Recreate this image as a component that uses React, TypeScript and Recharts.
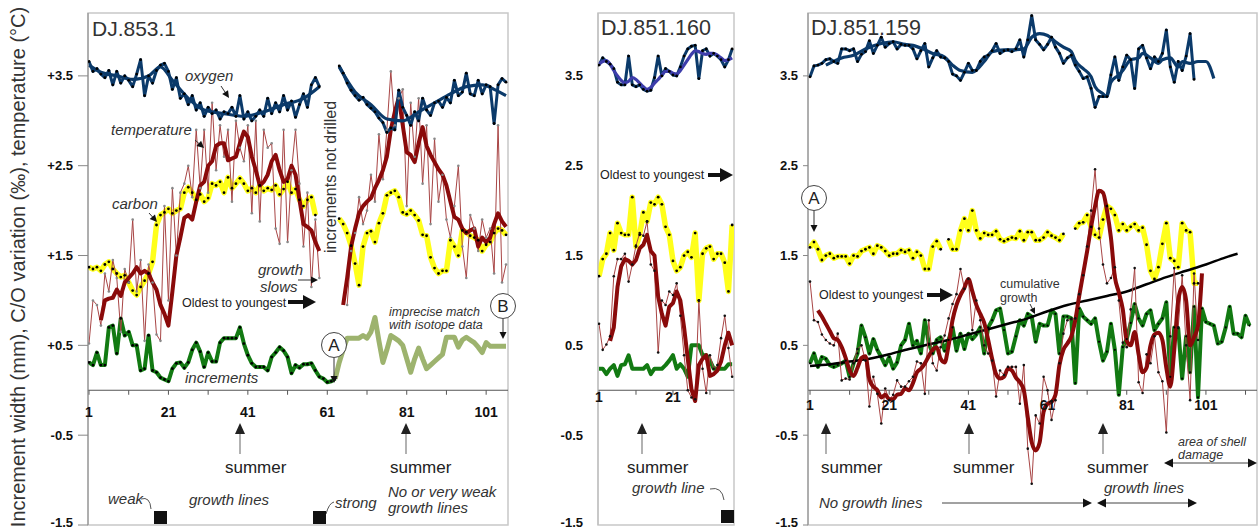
import React from 'react'
import { LineChart, Line, XAxis, YAxis, ReferenceLine, ReferenceDot, ReferenceArea } from 'recharts'

const FONT = '"Liberation Sans", Arial, sans-serif'

const NAVY = '#0b3a6a'
const PURPLE = '#3d3dab'
const DARKRED = '#8a0a0a'
const THINRED = '#a84545'
const YELLOW = '#ffff1a'
const GREEN = '#127a12'
const OLIVE = '#9db36e'

const Y_TICKS = [-1.5, -0.5, 0.5, 1.5, 2.5, 3.5]
const Y_DOMAIN: [number, number] = [-1.5, 4.2]

// ---------- DJ.853.1 ----------
const p1Ticks = [1, 11, 21, 31, 41, 51, 61, 71, 81, 91, 101]
const p1Labels = [1, 21, 41, 61, 81, 101]

const p1OxygenA = [ // x = 1..59
  3.66, 3.55, 3.58, 3.52, 3.48, 3.56, 3.40, 3.55, 3.42, 3.50,
  3.45, 3.38, 3.52, 3.68, 3.28, 3.50, 3.42, 3.56, 3.62, 3.64,
  3.55, 3.35, 3.48, 3.25, 3.30, 3.18, 3.28, 3.12, 3.20, 3.05,
  3.15, 3.08, 3.12, 3.02, 3.10, 3.08, 3.15, 3.05, 3.28, 3.02,
  3.10, 3.00, 3.05, 3.12, 3.05, 3.25, 3.08, 3.20, 3.10, 3.28,
  3.12, 3.22, 3.04, 3.18, 3.30, 3.15, 3.40, 3.48, 3.38,
]
const p1OxygenB = [ // x = 64..106
  3.61, 3.53, 3.42, 3.34, 3.28, 3.23, 3.26, 3.18, 3.14, 3.10,
  3.03, 2.98, 2.87, 2.92, 2.90, 3.34, 3.15, 3.06, 2.95, 3.10,
  3.00, 3.25, 3.12, 3.06, 3.20, 3.22, 3.15, 3.26, 3.20, 3.45,
  3.28, 3.32, 3.53, 3.30, 3.28, 3.45, 3.30, 3.40, 3.38, 2.97,
  3.40, 3.47, 3.43,
]
const p1OxySmoothAX = [1, 4, 8, 12, 16, 19, 22, 26, 30, 35, 40, 45, 50, 55, 59]
const p1OxySmoothAY = [3.62, 3.54, 3.50, 3.46, 3.50, 3.60, 3.45, 3.25, 3.12, 3.08, 3.05, 3.10, 3.18, 3.25, 3.38]
const p1OxySmoothBX = [64, 68, 72, 76, 80, 84, 88, 92, 96, 100, 103, 106]
const p1OxySmoothBY = [3.60, 3.32, 3.18, 3.02, 3.00, 3.10, 3.20, 3.30, 3.38, 3.40, 3.35, 3.28]

const p1TempRawA = [ // x = 1..59
  0.52, 1.00, 0.95, 0.72, 1.30, 1.10, 1.45, 1.25, 0.65, 1.35,
  1.20, 1.90, 1.10, 1.45, 0.55, 1.40, 1.20, 0.62, 0.55, 2.05,
  1.00, 2.25, 1.50, 2.20, 2.30, 2.50, 2.15, 2.90, 2.25, 2.90,
  2.20, 3.20, 2.45, 2.95, 2.60, 2.90, 2.10, 3.00, 2.70, 2.55,
  2.95, 1.97, 3.00, 1.88, 2.90, 2.70, 2.75, 1.80, 1.63, 2.90,
  1.65, 2.45, 2.90, 2.30, 1.60, 2.20, 1.15, 1.90, 1.25,
]
const p1TempRawB = [ // x = 66..106
  0.95, 1.55, 1.75, 2.15, 1.85, 2.00, 2.40, 2.10, 2.85, 2.35,
  2.90, 3.55, 2.95, 3.25, 3.35, 2.05, 3.20, 2.60, 3.25, 2.30,
  2.95, 1.85, 2.80, 2.10, 2.40, 1.90, 1.70, 2.05, 2.50, 1.60,
  1.25, 1.95, 1.80, 1.55, 1.90, 1.70, 1.80, 1.30, 2.95, 1.20,
  1.40,
]
const p1TempSmoothA = [ // x = 4..59
  0.78, 1.00, 1.02, 1.03, 1.12, 1.05, 1.20, 1.25, 1.30, 1.37,
  1.30, 1.33, 1.30, 1.20, 1.12, 0.95, 0.85, 0.72, 1.10, 1.50,
  1.70, 1.92, 1.95, 1.90, 2.10, 2.28, 2.32, 2.50, 2.55, 2.72,
  2.75, 2.75, 2.56, 2.58, 2.60, 2.75, 2.88, 2.82, 2.60, 2.45,
  2.28, 2.32, 2.40, 2.55, 2.62, 2.45, 2.32, 2.35, 2.50, 2.40,
  2.12, 1.85, 1.82, 1.78, 1.65, 1.55,
]
const p1TempSmoothB = [ // x = 65..106
  0.95, 1.25, 1.60, 1.80, 1.97, 2.05, 2.10, 2.14, 2.25, 2.34,
  2.45, 2.60, 2.90, 3.10, 3.26, 2.95, 2.65, 2.62, 2.54, 2.75,
  2.93, 2.72, 2.62, 2.54, 2.46, 2.40, 2.28, 2.10, 1.93, 1.90,
  1.80, 1.75, 1.78, 1.80, 1.60, 1.70, 1.65, 1.70, 1.85, 1.97,
  1.88, 1.82,
]
const p1CarbonA = [ // x = 1..58
  1.37, 1.35, 1.37, 1.33, 1.40, 1.43, 1.35, 1.30, 1.26, 1.28,
  1.20, 1.11, 1.06, 1.15, 1.22, 1.30, 1.43, 1.84, 1.95, 1.98,
  2.02, 1.97, 2.00, 2.02, 2.20, 2.26, 2.20, 2.12, 2.18, 2.10,
  2.14, 2.30, 2.28, 2.32, 2.20, 2.37, 2.25, 2.30, 2.36, 2.30,
  2.22, 2.25, 2.20, 2.28, 2.22, 2.25, 2.23, 2.28, 2.18, 2.24,
  2.32, 2.20, 2.24, 2.12, 2.05, 2.12, 2.15, 1.95,
]
const p1CarbonB = [ // x = 64..106
  1.91, 1.85, 1.75, 1.61, 1.41, 1.17, 1.60, 1.75, 1.77, 1.65,
  1.86, 1.97, 2.17, 2.20, 2.22, 2.15, 1.98, 1.96, 2.00, 1.95,
  1.89, 1.73, 1.72, 1.48, 1.36, 1.30, 1.33, 1.33, 1.67, 1.60,
  1.50, 1.78, 1.76, 1.72, 1.70, 1.67, 1.55, 1.62, 1.65, 1.75,
  1.80, 1.78, 1.73,
]
const p1Increments = [ // x = 1..63
  0.31, 0.28, 0.42, 0.28, 0.28, 0.70, 0.72, 0.41, 0.80, 0.61,
  0.65, 0.50, 0.50, 0.22, 0.24, 0.61, 0.22, 0.20, 0.14, 0.12,
  0.10, 0.24, 0.30, 0.31, 0.25, 0.31, 0.45, 0.53, 0.43, 0.26,
  0.42, 0.32, 0.32, 0.53, 0.58, 0.58, 0.58, 0.58, 0.70, 0.52,
  0.39, 0.30, 0.26, 0.26, 0.26, 0.22, 0.37, 0.42, 0.48, 0.44,
  0.37, 0.19, 0.28, 0.25, 0.29, 0.29, 0.30, 0.22, 0.15, 0.13,
  0.09, 0.10, 0.13,
]
const p1IncrementsLate = [ // x = 63..106
  0.13, 0.31, 0.45, 0.58, 0.58, 0.58, 0.58, 0.61, 0.58, 0.65,
  0.81, 0.55, 0.31, 0.45, 0.61, 0.58, 0.55, 0.50, 0.35, 0.20,
  0.35, 0.47, 0.35, 0.24, 0.28, 0.32, 0.36, 0.40, 0.59, 0.59,
  0.59, 0.48, 0.56, 0.59, 0.56, 0.53, 0.48, 0.42, 0.53, 0.49,
  0.49, 0.49, 0.49, 0.49,
]

// ---------- DJ.851.160 ----------
const p2Ticks = [1, 11, 21, 31]
const p2Labels = [1, 21]

const p2Oxygen = [ // x = 1..37
  3.62, 3.70, 3.66, 3.63, 3.58, 3.43, 3.40, 3.40, 3.72, 3.40,
  3.38, 3.40, 3.35, 3.33, 3.34, 3.48, 3.72, 3.50, 3.58, 3.55,
  3.51, 3.50, 3.60, 3.72, 3.80, 3.83, 3.84, 3.47, 3.78, 3.80,
  3.72, 3.75, 3.72, 3.68, 3.60, 3.68, 3.80,
]
const p2OxygenSmooth = [ // x = 1..37
  3.63, 3.66, 3.67, 3.63, 3.56, 3.50, 3.45, 3.42, 3.44, 3.48,
  3.46, 3.42, 3.38, 3.35, 3.37, 3.42, 3.46, 3.51, 3.55, 3.55,
  3.53, 3.52, 3.56, 3.62, 3.68, 3.74, 3.78, 3.77, 3.75, 3.74,
  3.75, 3.75, 3.73, 3.70, 3.67, 3.68, 3.70,
]
const p2Carbon = [ // x = 1..37
  1.27, 1.46, 1.52, 1.75, 1.56, 1.86, 1.75, 1.73, 1.73, 2.15,
  1.60, 1.73, 1.98, 1.88, 2.09, 2.07, 2.15, 2.07, 1.82, 1.73,
  1.44, 1.33, 1.37, 1.50, 1.54, 1.48, 1.75, 1.00, 1.52, 1.58,
  1.60, 1.46, 1.52, 1.52, 1.42, 1.10, 1.84,
]
const p2TempRaw = [ // x = 1..37
  0.74, 0.45, 0.51, 0.60, 1.27, 1.46, 1.46, 1.52, 1.21, 1.40,
  1.61, 1.75, 1.72, 1.88, 1.40, 1.33, 0.42, 1.00, 0.95, 1.10,
  1.06, 1.19, 0.83, 0.39, 0.00, -0.08, -0.10, 1.00, 0.24, -0.03,
  0.39, 0.24, 0.28, 0.58, 0.83, 0.47, 0.15,
]
const p2TempSmooth = [ // x = 4..37
  0.55, 0.70, 1.15, 1.38, 1.46, 1.44, 1.40, 1.45, 1.58, 1.62,
  1.73, 1.55, 1.50, 1.04, 0.85, 0.72, 0.93, 0.97, 1.10, 1.00,
  0.70, 0.35, 0.01, -0.12, 0.28, 0.35, 0.39, 0.16, 0.18, 0.22,
  0.32, 0.50, 0.64, 0.50,
]
const p2Increments = [ // x = 1..37
  0.24, 0.24, 0.18, 0.24, 0.28, 0.16, 0.28, 0.29, 0.39, 0.24,
  0.24, 0.24, 0.24, 0.28, 0.18, 0.24, 0.24, 0.24, 0.28, 0.33,
  0.39, 0.24, 0.29, 0.24, 0.15, 0.50, 0.50, 0.50, 0.39, 0.39,
  0.33, 0.24, 0.24, 0.24, 0.24, 0.29, 0.29,
]

// ---------- DJ.851.159 ----------
const p3Ticks = [1, 11, 21, 31, 41, 51, 61, 71, 81, 91, 101, 111]
const p3Labels = [1, 21, 41, 61, 81, 101]

const p3Oxygen = [ // x = 1..98
  3.49, 3.61, 3.62, 3.64, 3.68, 3.69, 3.66, 3.64, 3.80, 3.80,
  3.78, 3.80, 3.66, 3.74, 3.77, 3.89, 3.75, 3.84, 3.93, 3.82,
  3.86, 3.88, 3.80, 3.85, 3.84, 3.84, 3.80, 3.69, 3.78, 3.86,
  3.60, 3.70, 3.78, 3.71, 3.70, 3.66, 3.52, 3.50, 3.45, 3.54,
  3.64, 3.56, 3.56, 3.66, 3.71, 3.73, 3.78, 3.86, 3.75, 3.78,
  3.79, 3.77, 3.80, 3.90, 3.71, 3.90, 4.17, 3.90, 3.85, 3.79,
  3.85, 3.93, 3.82, 3.75, 3.64, 3.70, 3.73, 3.62, 3.55, 3.47,
  3.49, 3.36, 3.15, 3.27, 3.27, 3.27, 3.51, 3.71, 3.45, 3.60,
  3.73, 3.68, 3.36, 3.80, 3.84, 3.70, 3.58, 3.71, 3.66, 3.75,
  4.01, 3.60, 3.43, 3.66, 3.56, 3.72, 3.97, 3.46,
]
const p3OxySmoothX = [
  5, 9, 12, 15, 19, 22, 25, 27, 30, 32, 35, 37, 39, 42, 45, 47,
  50, 52, 55, 57, 59, 61, 63, 65, 67, 68, 70, 72, 73, 75, 76, 77,
  79, 80, 82, 84, 85, 87, 89, 90, 92, 94, 95, 97, 99, 101, 103,
]
const p3OxySmoothY = [
  3.62, 3.70, 3.73, 3.80, 3.86, 3.88, 3.85, 3.84, 3.79, 3.75, 3.71, 3.62, 3.56, 3.54, 3.66, 3.77,
  3.79, 3.79, 3.80, 3.93, 3.97, 3.95, 3.88, 3.82, 3.77, 3.67, 3.58, 3.49, 3.38, 3.30, 3.27, 3.43,
  3.51, 3.56, 3.68, 3.70, 3.75, 3.70, 3.64, 3.68, 3.70, 3.60, 3.66, 3.64, 3.66, 3.66, 3.47,
]
const p3Carbon = [ // x = 1..99
  1.59, 1.65, 1.57, 1.45, 1.50, 1.52, 1.47, 1.49, 1.49, 1.49,
  1.41, 1.50, 1.49, 1.55, 1.57, 1.59, 1.52, 1.61, 1.59, 1.55,
  1.50, 1.52, 1.52, 1.56, 1.54, 1.56, 1.47, 1.54, 1.50, 1.35,
  1.35, 1.60, 1.66, 1.57, null, 1.68, 1.57, 1.57, 1.78, 1.91,
  1.78, 2.00, 1.78, 1.69, 1.75, 1.73, 1.73, 1.77, 1.68, 1.66,
  1.68, 1.70, 1.69, 1.77, 1.67, 1.76, 1.76, 1.67, 1.67, 1.70,
  1.76, 1.72, 1.70, 1.67, 1.74, null, null, 1.80, 1.86, 1.87,
  1.95, 1.82, 1.73, 1.70, 1.90, 2.05, 2.02, 1.95, 1.78, 1.85,
  1.78, 1.82, 1.85, 1.78, 1.81, 1.62, 1.33, 1.24, 1.37, 1.63,
  1.86, 1.47, 1.44, 1.37, 1.86, 1.78, 1.76, 1.19, 1.19,
]
const p3TempRaw = [ // x = 1..99
  1.21, 0.78, 0.76, 0.62, 0.56, 0.52, 0.50, 0.63, 0.11, 0.13,
  0.12, 0.30, 0.46, 0.50, 0.33, -0.18, 0.15, -0.04, -0.37, 0.02,
  -0.11, -0.05, 0.11, 0.04, 0.04, 0.10, 0.15, 0.32, 0.30, -0.04,
  0.78, 0.30, 0.22, 0.48, 0.61, 0.80, 0.96, 1.07, 1.35, 1.13,
  1.24, 0.67, 1.00, 0.78, 0.50, 0.41, 0.33, -0.07, 0.22, 0.17,
  0.26, 0.26, 0.26, -0.15, 0.28, -0.65, -1.04, -0.28, -0.37, 0.15,
  0.00, -0.33, -0.11, 0.30, 0.63, 0.78, 0.79, 0.80, 1.07, 1.28,
  1.60, 2.00, 2.46, 1.80, 1.40, 1.19, 1.25, 1.37, 1.00, 0.53,
  0.48, 0.90, 1.36, 0.09, -0.03, 0.40, 0.30, 0.60, 0.20, 0.10,
  -0.47, 0.60, 1.36, 0.70, 1.28, 0.50, -0.11, 1.30, 0.56,
]
const p3TempSmooth = [ // x = 3..100
  0.89, 0.82, 0.74, 0.66, 0.58, 0.56, 0.48, 0.36, 0.22, 0.16,
  0.25, 0.36, 0.38, 0.12, 0.04, 0.00, -0.08, -0.05, -0.10, -0.10,
  -0.05, -0.04, 0.02, 0.00, 0.08, 0.20, 0.24, 0.30, 0.38, 0.45,
  0.48, 0.35, 0.31, 0.50, 0.78, 0.95, 1.06, 1.14, 1.24, 1.10,
  0.95, 0.85, 0.75, 0.56, 0.35, 0.18, 0.13, 0.15, 0.24, 0.22,
  0.14, 0.09, 0.00, -0.30, -0.58, -0.67, -0.58, -0.24, -0.15, -0.13,
  -0.05, 0.28, 0.45, 0.52, 0.60, 0.78, 1.05, 1.30, 1.55, 1.82,
  2.05, 2.22, 2.20, 2.00, 1.70, 1.26, 1.09, 0.90, 0.55, 0.50,
  0.65, 0.40, 0.20, 0.25, 0.50, 0.62, 0.64, 0.56, 0.25, 0.04,
  0.45, 1.00, 1.15, 1.00, 0.50, 0.59, 0.72, 1.30,
]
const p3Increments = [ // x = 1..112
  0.30, 0.41, 0.26, 0.37, 0.35, 0.28, 0.26, 0.28, 0.30, 0.33,
  0.15, 0.30, 0.41, 0.72, 0.59, 0.41, 0.57, 0.45, 0.37, 0.28,
  0.37, 0.24, 0.31, 0.50, 0.56, 0.74, 0.50, 0.55, 0.41, 0.78,
  0.52, 0.41, 0.56, 0.59, 0.44, 0.56, 0.70, 0.44, 0.63, 0.46,
  0.63, 0.57, 0.62, 0.70, 0.41, 0.70, 0.78, 0.89, 0.91, 0.67,
  0.41, 0.43, 0.60, 0.78, 0.72, 0.85, 0.82, 0.54, 0.74, 0.72,
  0.72, 0.89, 0.85, 0.41, 0.82, 0.82, 0.80, 0.08, 0.91, 0.82,
  0.78, 0.74, 0.80, 0.54, 0.33, 0.43, 0.74, 0.45, -0.05, 0.48,
  0.57, 0.75, 0.96, 0.80, 0.72, 0.85, 0.89, 0.67, 0.74, 0.80,
  0.98, 0.15, 0.70, 0.69, 0.13, 0.60, 0.20, 0.93, -0.08, 0.91,
  0.76, 0.74, 0.72, 0.52, 0.54, 0.70, 0.93, 0.63, 0.63, 0.59,
  0.83, 0.72,
]
const p3CumulativeX = [1, 6, 11, 16, 21, 26, 31, 36, 41, 46, 51, 56, 61, 66, 71, 76, 81, 86, 91, 96, 101, 106, 109]
const p3CumulativeY = [0.27, 0.29, 0.32, 0.35, 0.40, 0.46, 0.51, 0.56, 0.62, 0.68, 0.74, 0.80, 0.88, 0.95, 1.00, 1.05, 1.10, 1.18, 1.26, 1.33, 1.40, 1.48, 1.52]

type Pt = { x: number; y: number | null }
const seq = (start: number, ys: (number | null)[]): Pt[] => ys.map((y, i) => ({ x: start + i, y }))
const pts = (xs: number[], ys: number[]): Pt[] => xs.map((x, i) => ({ x, y: ys[i] }))

const blackDot = { r: 1.4, fill: '#000', stroke: 'none' }
const tempDot = (fill: string) => ({ r: 1.3, fill, stroke: 'none' })

function zeroAxis(key: string, ticks: number[], labels: number[], offset: number) {
  const out: React.ReactNode[] = [
    <ReferenceLine key={key + '-zero'} y={0} stroke="#555" strokeWidth={1.2} />,
  ]
  ticks.forEach((t) =>
    out.push(
      <ReferenceLine key={key + '-t' + t} segment={[{ x: t, y: 0 }, { x: t, y: -0.05 }]} stroke="#555" />,
    ),
  )
  labels.forEach((t) =>
    out.push(
      <ReferenceDot
        key={key + '-l' + t}
        x={t}
        y={0}
        r={0}
        stroke="none"
        label={{ value: String(t), position: 'bottom', offset, fill: '#111', fontSize: 14, fontWeight: 700, fontFamily: FONT }}
      />,
    ),
  )
  return out
}

const line = (data: Pt[], stroke: string, width: number, dot: any = false, type: 'linear' | 'monotone' = 'linear') => (
  <Line
    data={data}
    dataKey="y"
    type={type}
    stroke={stroke}
    strokeWidth={width}
    dot={dot}
    activeDot={false}
    isAnimationActive={false}
    strokeLinejoin="round"
  />
)

// y tick labels; the lowest one sits a little higher so it stays inside the page
const yTickRenderer = (plus: boolean) => (props: any) => {
  const { x, y, payload } = props
  const v = payload.value as number
  const text = (plus && v > 0 ? '+' : '') + v.toFixed(1)
  return (
    <text x={x} y={y + (v === -1.5 ? -3 : 0)} dy="0.35em" textAnchor="end" fill="#111" fontSize={13} fontWeight={700} fontFamily={FONT}>
      {text}
    </text>
  )
}

function Arrow({ x1, y1, x2, y2, color = '#333', width = 1, head = 8, half = 4, headColor = '#111' }: any) {
  const a = Math.atan2(y2 - y1, x2 - x1)
  const hx = x2 - head * Math.cos(a)
  const hy = y2 - head * Math.sin(a)
  const px = -Math.sin(a) * half
  const py = Math.cos(a) * half
  return (
    <g>
      <line x1={x1} y1={y1} x2={hx + Math.cos(a)} y2={hy + Math.sin(a)} stroke={color} strokeWidth={width} />
      <polygon points={`${x2},${y2} ${hx + px},${hy + py} ${hx - px},${hy - py}`} fill={headColor} />
    </g>
  )
}

function DoubleArrow({ x1, x2, y }: any) {
  return (
    <g>
      <Arrow x1={(x1 + x2) / 2} y1={y} x2={x1} y2={y} color="#444" head={9} half={4.5} />
      <Arrow x1={(x1 + x2) / 2} y1={y} x2={x2} y2={y} color="#444" head={9} half={4.5} />
    </g>
  )
}

function Circled({ x, y, t }: any) {
  return (
    <g>
      <circle cx={x} cy={y} r={12.5} fill="#fff" stroke="#444" strokeWidth={1} />
      <text x={x} y={y + 6} textAnchor="middle" fontSize={17} fill="#222">{t}</text>
    </g>
  )
}

function Summer({ x, textX }: any) {
  return (
    <g>
      <Arrow x1={x} y1={454} x2={x} y2={423} color="#999" width={1.5} head={11} half={5} headColor="#222" />
      <text x={textX} y={473} fontSize={17} fill="#222">summer</text>
    </g>
  )
}

const it = { fontStyle: 'italic' as const, fill: '#333' }

export default function App() {
  return (
    <div style={{ position: 'absolute', left: 0, top: 0, width: 1258, height: 531, overflow: 'hidden', background: '#fff', fontFamily: FONT }}>
      {/* DJ.853.1 */}
      <div style={{ position: 'absolute', left: 0, top: 0 }}>
        <LineChart width={515} height={531} margin={{ top: 13, right: 7, bottom: 6, left: 0 }}>
          <XAxis type="number" dataKey="x" domain={[0.75, 106.5]} hide allowDataOverflow />
          <YAxis
            type="number"
            domain={Y_DOMAIN}
            ticks={Y_TICKS}
            interval={0}
            width={88}
            allowDataOverflow
            tick={yTickRenderer(true)}
            tickSize={10}
            tickMargin={5}
            axisLine={{ stroke: '#888' }}
            tickLine={{ stroke: '#888' }}
          />
          <ReferenceArea x1={0.75} x2={106.5} y1={-1.5} y2={4.2} fill="none" stroke="#c8c8c8" strokeWidth={1.5} />
          {zeroAxis('p1', p1Ticks, p1Labels, 17)}
          {line(seq(1, p1Increments), GREEN, 4, blackDot)}
          {line(seq(63, p1IncrementsLate), OLIVE, 5)}
          {line(seq(1, p1CarbonA), YELLOW, 5.5, blackDot)}
          {line(seq(64, p1CarbonB), YELLOW, 5.5, blackDot)}
          {line(seq(1, p1TempRawA), THINRED, 1, tempDot('#888'))}
          {line(seq(66, p1TempRawB), THINRED, 1, tempDot('#888'))}
          {line(seq(4, p1TempSmoothA), DARKRED, 4)}
          {line(seq(65, p1TempSmoothB), DARKRED, 4)}
          {line(seq(1, p1OxygenA), NAVY, 3, blackDot)}
          {line(seq(64, p1OxygenB), NAVY, 3, blackDot)}
          {line(pts(p1OxySmoothAX, p1OxySmoothAY), NAVY, 3.2, false, 'monotone')}
          {line(pts(p1OxySmoothBX, p1OxySmoothBY), NAVY, 3.2, false, 'monotone')}
        </LineChart>
      </div>

      {/* DJ.851.160 */}
      <div style={{ position: 'absolute', left: 555, top: 0 }}>
        <LineChart width={182} height={531} margin={{ top: 13, right: 3, bottom: 6, left: 0 }}>
          <XAxis type="number" dataKey="x" domain={[0.73, 37.5]} hide allowDataOverflow />
          <YAxis
            type="number"
            domain={Y_DOMAIN}
            ticks={Y_TICKS}
            interval={0}
            width={43}
            allowDataOverflow
            tick={yTickRenderer(false)}
            tickSize={10}
            tickMargin={5}
            axisLine={{ stroke: '#bbb' }}
            tickLine={false}
          />
          <ReferenceArea x1={0.73} x2={37.5} y1={-1.5} y2={4.2} fill="none" stroke="#c8c8c8" strokeWidth={1.5} />
          {zeroAxis('p2', p2Ticks, p2Labels, 2)}
          {line(seq(1, p2Increments), GREEN, 4)}
          {line(seq(1, p2Carbon), YELLOW, 5.5, blackDot)}
          {line(seq(1, p2TempRaw), THINRED, 1, tempDot('#111'))}
          {line(seq(4, p2TempSmooth), DARKRED, 4)}
          {line(seq(1, p2Oxygen), NAVY, 3, blackDot)}
          {line(seq(1, p2OxygenSmooth), PURPLE, 3.2, false, 'monotone')}
        </LineChart>
      </div>

      {/* DJ.851.159 */}
      <div style={{ position: 'absolute', left: 760, top: 0 }}>
        <LineChart width={498} height={531} margin={{ top: 13, right: 1, bottom: 6, left: 0 }}>
          <XAxis type="number" dataKey="x" domain={[0.49, 113.9]} hide allowDataOverflow />
          <YAxis
            type="number"
            domain={Y_DOMAIN}
            ticks={Y_TICKS}
            interval={0}
            width={48}
            allowDataOverflow
            tick={yTickRenderer(false)}
            tickSize={5}
            tickMargin={5}
            axisLine={{ stroke: '#888' }}
            tickLine={{ stroke: '#888' }}
          />
          <ReferenceArea x1={0.49} x2={113.9} y1={-1.5} y2={4.2} fill="none" stroke="#c8c8c8" strokeWidth={1.5} />
          {zeroAxis('p3', p3Ticks, p3Labels, 10)}
          {line(seq(1, p3Carbon), YELLOW, 5.5, blackDot)}
          {line(seq(1, p3Increments), GREEN, 4, { r: 1.1, fill: '#000', stroke: 'none' })}
          {line(pts(p3CumulativeX, p3CumulativeY), '#000', 2.5, false, 'monotone')}
          {line(seq(1, p3TempRaw), THINRED, 1, tempDot('#111'))}
          {line(seq(3, p3TempSmooth), DARKRED, 4, false, 'monotone')}
          {line(seq(1, p3Oxygen), NAVY, 3, blackDot)}
          {line(pts(p3OxySmoothX, p3OxySmoothY), NAVY, 3.2, false, 'monotone')}
        </LineChart>
      </div>

      {/* annotations */}
      <svg width={1258} height={531} style={{ position: 'absolute', left: 0, top: 0, pointerEvents: 'none' }} fontFamily={FONT}>
        <text transform="translate(25,267) rotate(-90)" textAnchor="middle" fontSize={20} fill="#333">
          Increment width (mm), C/O variation (‰), temperature (°C)
        </text>

        {/* panel 1 */}
        <text x={92} y={36} fontSize={21} fill="#333">DJ.853.1</text>
        <text x={185} y={81} fontSize={15} {...it}>oxygen</text>
        <Arrow x1={221} y1={86} x2={229} y2={98} head={7} half={3.5} />
        <text x={111} y={135} fontSize={15} {...it}>temperature</text>
        <Arrow x1={195} y1={140} x2={204} y2={148} head={7} half={3.5} />
        <text x={112} y={209} fontSize={15} {...it}>carbon</text>
        <Arrow x1={149} y1={213} x2={157} y2={222} head={7} half={3.5} />
        <text x={258} y={275} fontSize={15} {...it}>growth</text>
        <text x={260} y={292} fontSize={15} {...it}>slows</text>
        <Arrow x1={298} y1={280} x2={318} y2={280} head={7} half={3.5} />
        <text x={182} y={307} fontSize={12.5} fill="#222">Oldest to youngest</text>
        <Arrow x1={288} y1={302} x2={316} y2={302} width={4} head={13} half={7} color="#111" />
        <text transform="translate(336,177) rotate(-90)" textAnchor="middle" fontSize={16} fill="#333">increments not drilled</text>
        <text x={185} y={383} fontSize={15} {...it}>increments</text>
        <Circled x={334} y={345} t="A" />
        <Arrow x1={334} y1={358} x2={334} y2={383} head={7} half={3.5} />
        <Circled x={503} y={306} t="B" />
        <Arrow x1={503} y1={319} x2={503} y2={339} head={7} half={3.5} />
        <text x={389} y={316} fontSize={12.5} {...it}>imprecise match</text>
        <text x={389} y={329} fontSize={12.5} {...it}>with isotope data</text>
        <Summer x={240} textX={225} />
        <Summer x={406} textX={390} />
        <text x={108} y={504} fontSize={15} {...it}>weak</text>
        <path d="M141 499 Q150 496 151 509" fill="none" stroke="#555" strokeWidth={1} />
        <rect x={154} y={511} width={13} height={13} fill="#111" />
        <text x={189} y={505} fontSize={15} {...it}>growth lines</text>
        <text x={335} y={508} fontSize={15} {...it}>strong</text>
        <path d="M326 514 Q329 503 334 502" fill="none" stroke="#555" strokeWidth={1} />
        <rect x={313} y={511} width={13} height={13} fill="#111" />
        <text x={388} y={497} fontSize={15} {...it}>No or very weak</text>
        <text x={388} y={513} fontSize={15} {...it}>growth lines</text>

        {/* panel 2 */}
        <text x={601} y={35} fontSize={21.5} fill="#333">DJ.851.160</text>
        <text x={600} y={179} fontSize={12.5} fill="#222">Oldest to youngest</text>
        <Arrow x1={708} y1={175} x2={733} y2={175} width={4} head={13} half={7} color="#111" />
        <Summer x={642} textX={627} />
        <text x={632} y={493} fontSize={15} {...it}>growth line</text>
        <path d="M710 489 Q722 486 724 500" fill="none" stroke="#555" strokeWidth={1} />
        <rect x={721} y={510} width={13} height={13} fill="#111" />

        {/* panel 3 */}
        <text x={811} y={35} fontSize={21.5} fill="#333">DJ.851.159</text>
        <Circled x={814} y={198} t="A" />
        <Arrow x1={814} y1={211} x2={814} y2={232} head={7} half={3.5} />
        <text x={819} y={299} fontSize={12.5} fill="#222">Oldest to youngest</text>
        <Arrow x1={927} y1={295} x2={953} y2={295} width={4} head={13} half={7} color="#111" />
        <text x={1000} y={288} fontSize={12.5} fill="#333">cumulative</text>
        <text x={1000} y={302} fontSize={12.5} fill="#333">growth</text>
        <Arrow x1={1030} y1={304} x2={1035} y2={314} head={6} half={3} />
        <Summer x={826} textX={821} />
        <Summer x={969} textX={953} />
        <Summer x={1103} textX={1087} />
        <text x={1178} y={446} fontSize={12.5} {...it}>area of shell</text>
        <text x={1178} y={459} fontSize={12.5} {...it}>damage</text>
        <DoubleArrow x1={1164} x2={1257} y={463} />
        <text x={1104} y={493} fontSize={15} {...it}>growth lines</text>
        <DoubleArrow x1={1097} x2={1197} y={503} />
        <text x={819} y={508} fontSize={15} {...it}>No growth lines</text>
        <Arrow x1={942} y1={503} x2={1092} y2={503} color="#444" head={9} half={4.5} />
      </svg>
    </div>
  )
}
